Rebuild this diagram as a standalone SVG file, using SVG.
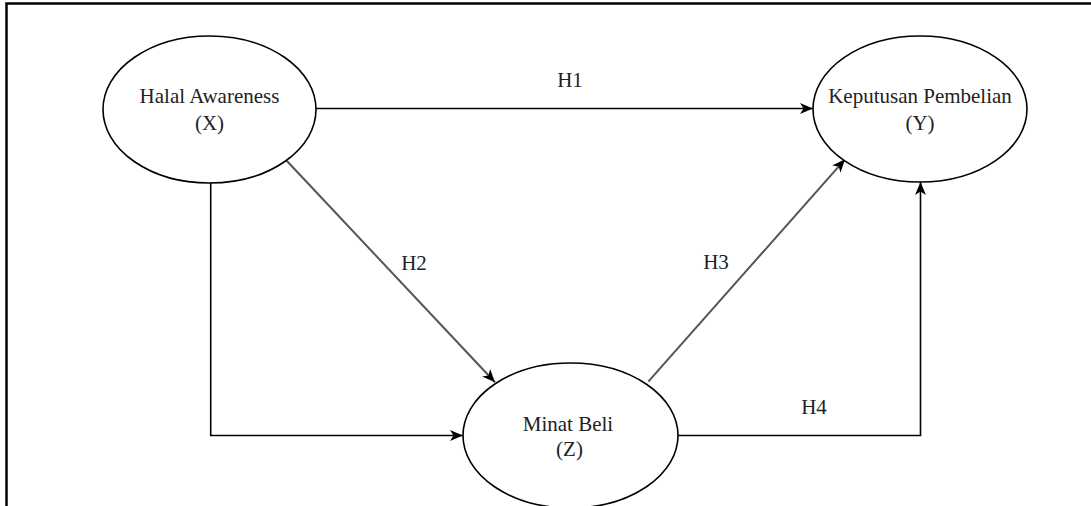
<svg xmlns="http://www.w3.org/2000/svg" width="1091" height="506" viewBox="0 0 1091 506">
<style>
.node ellipse{fill:#fff;stroke:#000;stroke-width:1.6}
text{font-family:"Liberation Serif","Times New Roman",serif;font-size:21px;fill:#222;text-anchor:middle}
.c{fill:none;stroke:#000;stroke-width:1.6}
.g{stroke:#555;stroke-width:2}
</style>
<defs>
<marker id="a" markerUnits="userSpaceOnUse" markerWidth="14" markerHeight="12" refX="13" refY="6" orient="auto">
<path d="M0,0.5 L13,6 L0,11.5 L3.5,6 Z" fill="#000"/>
</marker>
</defs>
<rect x="0" y="0" width="1091" height="506" fill="#fff"/>
<path d="M6.5 506 V3.5 H1091" fill="none" stroke="#000" stroke-width="2.5"/>
<g id="connectors">
<path class="c" d="M316 108.5 H813" marker-end="url(#a)"/>
<path class="c g" d="M286.7 160.7 L495 382.3" marker-end="url(#a)"/>
<path class="c" d="M210.7 182.5 V435.5 H463" marker-end="url(#a)"/>
<path class="c g" d="M648.3 381.7 L845 159.3" marker-end="url(#a)"/>
<path class="c" d="M678 435.5 H920.5 V182" marker-end="url(#a)"/>
<text x="570" y="87">H1</text>
<text x="414" y="270">H2</text>
<text x="716" y="269">H3</text>
<text x="814" y="414">H4</text>
</g>
<g id="node-x" class="node">
<ellipse cx="209.5" cy="109.5" rx="106.5" ry="73.5"/>
<text x="209.5" y="103">Halal Awareness</text>
<text x="209.5" y="130">(X)</text>
</g>
<g id="node-y" class="node">
<ellipse cx="920" cy="109" rx="107" ry="73"/>
<text x="920" y="103">Keputusan Pembelian</text>
<text x="920" y="130">(Y)</text>
</g>
<g id="node-z" class="node">
<ellipse cx="570.5" cy="435.5" rx="107.5" ry="72.5"/>
<text x="568" y="431">Minat Beli</text>
<text x="569.5" y="456">(Z)</text>
</g>
</svg>
